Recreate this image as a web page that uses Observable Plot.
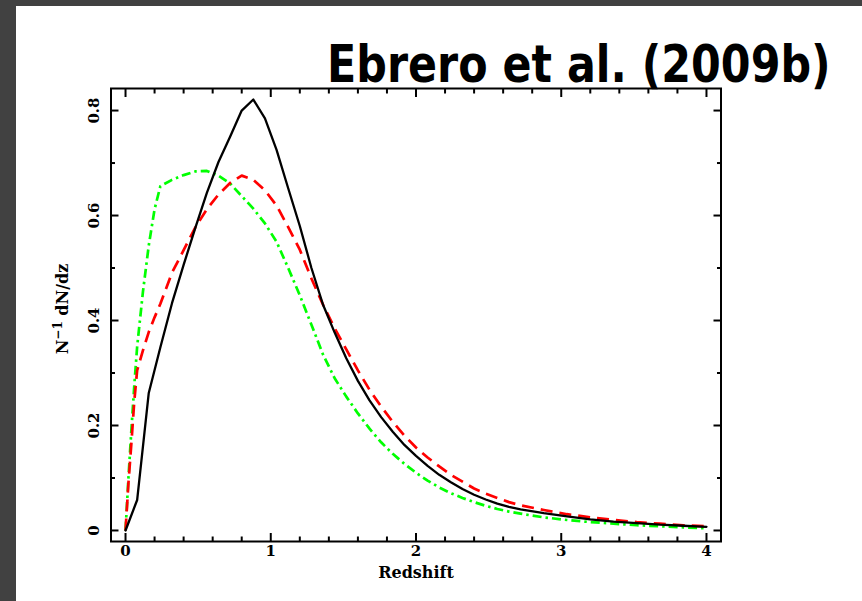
<!DOCTYPE html>
<html>
<head>
<meta charset="utf-8">
<script src="https://cdn.jsdelivr.net/npm/d3@7"></script>
<script src="https://cdn.jsdelivr.net/npm/@observablehq/plot@0.6"></script>
<style>
  html, body { margin: 0; padding: 0; width: 862px; height: 601px; overflow: hidden; background: #414141; }
  #chart { position: absolute; left: 16px; top: 6px; width: 846px; height: 595px; background: #fff; }
</style>
</head>
<body>
<div id="chart"></div>
<script>
// Normalised redshift distributions N^-1 dN/dz for three model predictions.
const titleText = "Ebrero et al. (2009b)";
const xLabel = "Redshift";
const yLabelParts = ["N", "\u22121", " dN/dz"];

// solid black model (sampled every 0.08 in z up to 2.72, then every 0.16)
const zBlack = [0, 0.08, 0.16, 0.24, 0.32, 0.40, 0.48, 0.56, 0.64, 0.72, 0.80, 0.88, 0.96,
  1.04, 1.12, 1.20, 1.28, 1.36, 1.44, 1.52, 1.60, 1.68, 1.76, 1.84, 1.92, 2.00, 2.08,
  2.16, 2.24, 2.32, 2.40, 2.48, 2.56, 2.64, 2.72, 2.88, 3.04, 3.20, 3.36, 3.52, 3.68, 3.84, 4.00];
const nBlack = [0, 0.058, 0.262, 0.349, 0.433, 0.506, 0.576, 0.643, 0.702, 0.750, 0.800, 0.821, 0.785,
  0.725, 0.652, 0.580, 0.500, 0.430, 0.377, 0.328, 0.285, 0.248, 0.216, 0.188, 0.163, 0.142, 0.123,
  0.106, 0.092, 0.079, 0.068, 0.059, 0.051, 0.045, 0.040, 0.033, 0.027, 0.021, 0.017, 0.014, 0.011, 0.009, 0.007];

// dashed red and dot-dashed green models
const zModel = [0, 0.02, 0.04, 0.06, 0.08, 0.12, 0.16, 0.20, 0.24, 0.32, 0.40, 0.48, 0.56, 0.64,
  0.72, 0.80, 0.88, 0.96, 1.04, 1.12, 1.20, 1.28, 1.36, 1.44, 1.52, 1.60, 1.68, 1.76, 1.84,
  1.92, 2.00, 2.08, 2.16, 2.24, 2.32, 2.40, 2.48, 2.56, 2.64, 2.72, 2.88, 3.04, 3.20, 3.36,
  3.52, 3.68, 3.84, 4.00];
const nRed = [0, 0.090, 0.165, 0.245, 0.305, 0.343, 0.378, 0.406, 0.432, 0.491, 0.534, 0.577, 0.612, 0.640,
  0.662, 0.676, 0.668, 0.648, 0.619, 0.578, 0.535, 0.480, 0.430, 0.385, 0.345, 0.305, 0.268, 0.236, 0.207,
  0.181, 0.158, 0.139, 0.122, 0.106, 0.093, 0.080, 0.070, 0.062, 0.054, 0.048, 0.039, 0.031, 0.025, 0.020,
  0.016, 0.013, 0.010, 0.008];
const nGreen = [0, 0.100, 0.190, 0.275, 0.350, 0.455, 0.543, 0.612, 0.656, 0.668, 0.677, 0.684, 0.685, 0.676,
  0.661, 0.637, 0.613, 0.585, 0.550, 0.500, 0.448, 0.392, 0.335, 0.290, 0.255, 0.223, 0.194, 0.168, 0.146,
  0.127, 0.110, 0.095, 0.082, 0.071, 0.062, 0.054, 0.047, 0.041, 0.036, 0.032, 0.025, 0.020, 0.016, 0.013,
  0.010, 0.008, 0.006, 0.004];

// axis ticks and labels
const xMajor = [0, 1, 2, 3, 4];
const xMinor = [0.2, 0.4, 0.6, 0.8, 1.2, 1.4, 1.6, 1.8, 2.2, 2.4, 2.6, 2.8, 3.2, 3.4, 3.6, 3.8];
const xTickLabels = ["0", "1", "2", "3", "4"];
const yMajor = [0, 0.2, 0.4, 0.6, 0.8];
const yMinor = [0.1, 0.3, 0.5, 0.7];
const yTickLabels = ["0", "0.2", "0.4", "0.6", "0.8"];

const black = zBlack.map((z, i) => ({z, n: nBlack[i]}));
const red = zModel.map((z, i) => ({z, n: nRed[i]}));
const green = zModel.map((z, i) => ({z, n: nGreen[i]}));

const serif = "'DejaVu Serif', serif";
const blank = () => "";

const chart = Plot.plot({
  width: 846,
  height: 595,
  marginLeft: 94.5,
  marginRight: 141.5,
  marginTop: 82,
  marginBottom: 60,
  style: {background: "white", overflow: "visible"},
  x: {domain: [-0.1, 4.1]},
  y: {domain: [-0.021, 0.842]},
  marks: [
    Plot.line(green, {x: "z", y: "n", stroke: "#00ff00", strokeWidth: 2.7, strokeDasharray: "9,4,2.5,4", strokeLinecap: "butt"}),
    Plot.line(red, {x: "z", y: "n", stroke: "#ff0000", strokeWidth: 2.7, strokeDasharray: "12,7", strokeLinecap: "butt"}),
    Plot.line(black, {x: "z", y: "n", stroke: "#000", strokeWidth: 2.3}),

    // inward ticks on all four sides
    Plot.axisX({anchor: "bottom", ticks: xMajor, tickSize: -8, tickFormat: blank, label: null, strokeWidth: 2}),
    Plot.axisX({anchor: "bottom", ticks: xMinor, tickSize: -4.5, tickFormat: blank, label: null, strokeWidth: 2}),
    Plot.axisX({anchor: "top", ticks: xMajor, tickSize: -8, tickFormat: blank, label: null, strokeWidth: 2}),
    Plot.axisX({anchor: "top", ticks: xMinor, tickSize: -4.5, tickFormat: blank, label: null, strokeWidth: 2}),
    Plot.axisY({anchor: "left", ticks: yMajor, tickSize: -8, tickFormat: blank, label: null, strokeWidth: 2}),
    Plot.axisY({anchor: "left", ticks: yMinor, tickSize: -4.5, tickFormat: blank, label: null, strokeWidth: 2}),
    Plot.axisY({anchor: "right", ticks: yMajor, tickSize: -8, tickFormat: blank, label: null, strokeWidth: 2}),
    Plot.axisY({anchor: "right", ticks: yMinor, tickSize: -4.5, tickFormat: blank, label: null, strokeWidth: 2}),

    // tick labels
    Plot.text(xMajor, {x: d => d, frameAnchor: "bottom", dy: 14, text: (d, i) => xTickLabels[i],
      fontFamily: serif, fontWeight: "bold", fontSize: 15, fill: "#000"}),
    Plot.text(yMajor, {y: d => d, frameAnchor: "left", dx: -16.5, rotate: -90, text: (d, i) => yTickLabels[i],
      fontFamily: serif, fontWeight: "bold", fontSize: 15, fill: "#000", textAnchor: "middle"}),

    // x axis title
    Plot.text([xLabel], {frameAnchor: "bottom", dy: 36, text: d => d,
      fontFamily: serif, fontWeight: "bold", fontSize: 16, fill: "#000"}),

    Plot.frame({stroke: "#000", strokeWidth: 2})
  ]
});

document.getElementById("chart").appendChild(chart);
const svg = d3.select(chart);

// y axis title with a raised exponent
const yTitle = svg.append("text")
  .attr("transform", "translate(52,303) rotate(-90)")
  .attr("text-anchor", "middle")
  .attr("font-family", serif)
  .attr("font-weight", "bold")
  .attr("font-size", 16)
  .attr("fill", "#000");
yTitle.append("tspan").text(yLabelParts[0]);
yTitle.append("tspan").attr("dy", -6).attr("font-size", 12).text(yLabelParts[1]);
yTitle.append("tspan").attr("dy", 6).text(yLabelParts[2]);

// large heading in the upper right, overlapping the top of the frame;
// the bold face is narrowed horizontally
svg.append("text")
  .attr("transform", "translate(311,76) scale(0.84,1)")
  .attr("text-anchor", "start")
  .attr("font-family", "'DejaVu Sans', sans-serif")
  .attr("font-weight", "bold")
  .attr("font-size", 51)
  .attr("fill", "#000")
  .text(titleText);
</script>
</body>
</html>
